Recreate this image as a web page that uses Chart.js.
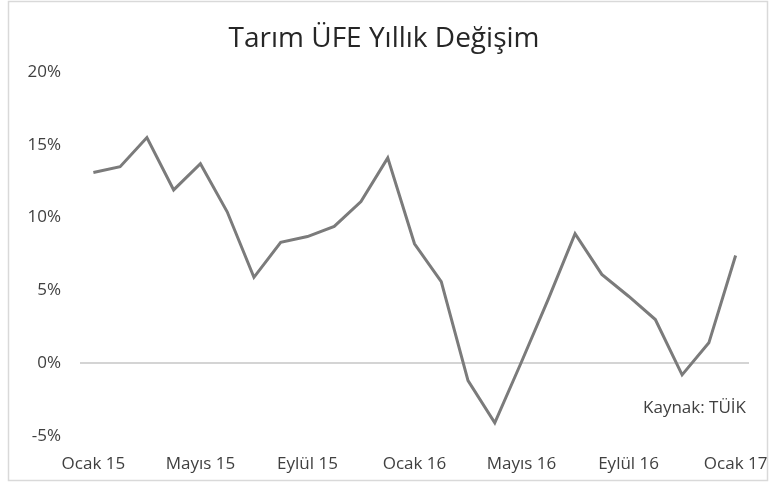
<!DOCTYPE html>
<html>
<head>
<meta charset="utf-8">
<script src="https://cdn.jsdelivr.net/npm/chart.js"></script>
<style>
  html, body { margin: 0; padding: 0; background: #fff; }
  #wrap { width: 771px; height: 486px; }
</style>
</head>
<body>
<div id="wrap"><canvas id="ufeChart" width="771" height="486"></canvas></div>
<script>
// Aylar (Ocak 2015 - Ocak 2017)
const months = ['Ocak', 'Şubat', 'Mart', 'Nisan', 'Mayıs', 'Haziran', 'Temmuz', 'Ağustos', 'Eylül', 'Ekim', 'Kasım', 'Aralık'];
const labels = [];
for (let i = 0; i < 25; i++) {
    labels.push(months[i % 12] + ' ' + (15 + Math.floor(i / 12)));
}

// Tarım ÜFE yıllık değişim (%)
const ufeValues = [13.1, 13.5, 15.5, 11.9, 13.7, 10.4, 5.9, 8.3, 8.7, 9.4, 11.1, 14.1,
                   8.2, 5.6, -1.2, -4.1, 0.1, 4.4, 8.9, 6.1, 4.6, 3.0, -0.8, 1.4, 7.4];

const yTicks = [-5, 0, 5, 10, 15, 20];

const textColor = '#404040';
const fontFamily = '"Open Sans", sans-serif';

// Çerçeve, başlık ve kaynak notu
const extras = {
    id: 'extras',
    beforeDraw(chart) {
        const ctx = chart.ctx;
        ctx.save();
        ctx.fillStyle = '#ffffff';
        ctx.fillRect(0, 0, chart.width, chart.height);
        ctx.strokeStyle = '#d9d9d9';
        ctx.lineWidth = 1.5;
        ctx.strokeRect(8.5, 1.5, 759, 479);
        ctx.restore();
    },
    afterDraw(chart) {
        const ctx = chart.ctx;
        ctx.save();
        ctx.fillStyle = '#262626';
        ctx.font = '28px ' + fontFamily;
        ctx.textAlign = 'center';
        ctx.textBaseline = 'middle';
        ctx.fillText('Tarım ÜFE Yıllık Değişim', 384, 39);
        ctx.fillStyle = textColor;
        ctx.font = '17px ' + fontFamily;
        ctx.textAlign = 'right';
        ctx.fillText('Kaynak: TÜİK', 746, 408);
        ctx.restore();
    }
};

const ctx = document.getElementById('ufeChart').getContext('2d');
new Chart(ctx, {
    type: 'line',
    data: {
        labels: labels,
        datasets: [{
            data: ufeValues,
            borderColor: '#7b7b7b',
            borderWidth: 3,
            pointRadius: 0,
            tension: 0,
            fill: false
        }]
    },
    options: {
        responsive: false,
        animation: false,
        layout: { padding: { top: 72, right: 22, bottom: 0, left: 0 } },
        plugins: {
            legend: { display: false },
            tooltip: { enabled: false }
        },
        scales: {
            x: {
                offset: true,
                afterFit: (scale) => {
                    scale.height = 50;
                    scale.paddingLeft = 0;
                    scale.paddingRight = 0;
                },
                grid: { display: false, drawTicks: false },
                border: { display: false },
                ticks: {
                    autoSkip: false,
                    maxRotation: 0,
                    padding: 18,
                    color: textColor,
                    font: { family: fontFamily, size: 17 },
                    callback: function (value, index) {
                        return index % 4 === 0 ? labels[index] : '';
                    }
                }
            },
            y: {
                min: yTicks[0],
                max: yTicks[yTicks.length - 1],
                afterFit: (scale) => { scale.width = 80; },
                afterBuildTicks: (scale) => { scale.ticks = yTicks.map(v => ({ value: v })); },
                grid: {
                    drawTicks: false,
                    lineWidth: 2,
                    color: (c) => (c.tick && c.tick.value === 0 ? '#d4d4d4' : 'rgba(0,0,0,0)')
                },
                border: { display: false },
                ticks: {
                    padding: 19,
                    color: textColor,
                    font: { family: fontFamily, size: 17 },
                    callback: (v) => v + '%'
                }
            }
        }
    },
    plugins: [extras]
});
</script>
</body>
</html>
